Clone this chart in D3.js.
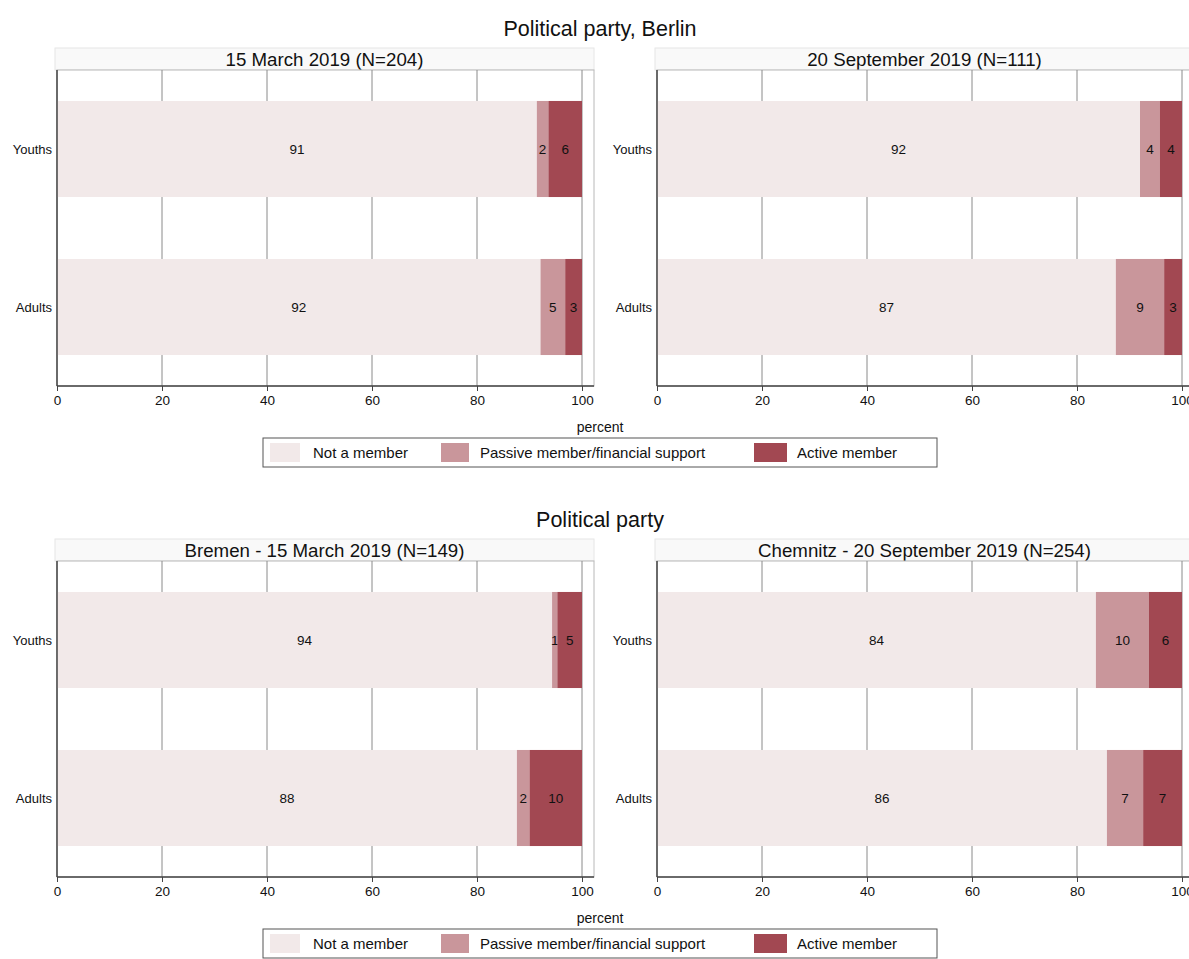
<!DOCTYPE html>
<html><head><meta charset="utf-8">
<script src="https://cdn.jsdelivr.net/npm/d3@7"></script>
<style>
html,body{margin:0;padding:0;background:#fff;overflow:hidden;}
text{font-family:"Liberation Sans",Arial,Helvetica,sans-serif;fill:#111;}
</style></head>
<body>
<svg id="chart" width="1189" height="959"></svg>
<script>
// ---- data ----
const categories = ["Youths", "Adults"];
const seriesNames = ["Not a member", "Passive member/financial support", "Active member"];
const seriesColors = ["#f2e9e9", "#c9969b", "#a24852"];
const tickValues = [0, 20, 40, 60, 80, 100];
const sectionTitles = ["Political party, Berlin", "Political party"];
const panelTitles = ["15 March 2019 (N=204)", "20 September 2019 (N=111)",
                     "Bremen - 15 March 2019 (N=149)", "Chemnitz - 20 September 2019 (N=254)"];
// rows: [Youths, Adults]; columns: [not a member, passive, active]
const berlinMarch = [[91.4, 2.2, 6.4], [92.1, 4.7, 3.2]];
const berlinSeptember = [[92.0, 3.8, 4.2], [87.4, 9.2, 3.4]];
const bremenMarch = [[94.3, 1.0, 4.7], [87.6, 2.4, 10.0]];
const chemnitzSeptember = [[83.6, 10.1, 6.3], [85.7, 6.9, 7.4]];
const axisLabel = "percent";

const svg = d3.select("#chart");
const fmt = d3.format(".0f");

function panel(x0, top, title, values) {
  const g = svg.append("g");
  const plotW = 537, plotTop = top + 22, plotBot = plotTop + 316;
  const x = d3.scaleLinear().domain([0, 100]).range([x0, x0 + 525]);
  const y = d3.scaleBand().domain(categories).range([plotTop, plotBot])
    .paddingInner(0.392).paddingOuter(0.196);

  // header strip
  g.append("rect").attr("x", x0 - 2).attr("y", top).attr("width", plotW + 2).attr("height", 22)
    .attr("fill", "#f9f9f9").attr("stroke", "#e6e6e6");
  g.append("text").attr("x", x0 + plotW / 2 - 1).attr("y", top + 11).attr("dy", "0.35em")
    .attr("text-anchor", "middle").style("font-size", "18.7px").text(title);

  // plot border
  g.append("rect").attr("x", x0).attr("y", plotTop).attr("width", plotW).attr("height", plotBot - plotTop)
    .attr("fill", "#fff").attr("stroke", "#b8b8b8").attr("stroke-width", 1);

  // grid
  g.selectAll("line.grid").data(tickValues.filter(d => d > 0)).enter().append("line")
    .attr("class", "grid").attr("x1", d => x(d)).attr("x2", d => x(d))
    .attr("y1", plotTop).attr("y2", plotBot).attr("stroke", "#8a8a8a").attr("stroke-width", 1);

  // bars
  categories.forEach((c, i) => {
    let cum = 0;
    values[i].forEach((v, j) => {
      const a = cum, b = cum + v; cum = b;
      g.append("rect").attr("x", x(a)).attr("y", y(c)).attr("width", x(b) - x(a)).attr("height", y.bandwidth())
        .attr("fill", seriesColors[j]);
      g.append("text").attr("x", (x(a) + x(b)) / 2).attr("y", y(c) + y.bandwidth() / 2).attr("dy", "0.35em")
        .attr("text-anchor", "middle").style("font-size", "13.5px").text(fmt(v));
    });
    g.append("text").attr("x", x0 - 5).attr("y", y(c) + y.bandwidth() / 2).attr("dy", "0.35em")
      .attr("text-anchor", "end").style("font-size", "13px").text(c);
  });

  // axes
  g.append("line").attr("x1", x0).attr("x2", x0).attr("y1", plotTop).attr("y2", plotBot)
    .attr("stroke", "#444").attr("stroke-width", 1.5);
  g.append("line").attr("x1", x0).attr("x2", x0 + plotW).attr("y1", plotBot).attr("y2", plotBot)
    .attr("stroke", "#444").attr("stroke-width", 1.5);
  const ax = g.append("g").attr("transform", `translate(0,${plotBot})`)
    .call(d3.axisBottom(x).tickValues(tickValues).tickSize(5).tickSizeOuter(0).tickPadding(4));
  ax.select(".domain").remove();
  ax.selectAll(".tick line").attr("stroke", "#444");
  ax.selectAll(".tick text").style("font-size", "13.5px").attr("fill", "#111")
    .style("font-family", '"Liberation Sans",Arial,sans-serif');
  return plotBot;
}

function legend(top) {
  const g = svg.append("g");
  g.append("rect").attr("x", 263).attr("y", top).attr("width", 674).attr("height", 29)
    .attr("fill", "#fff").attr("stroke", "#555").attr("stroke-width", 1);
  const sw = [270, 441, 754], swW = [30, 28, 33], tx = [313, 480, 797];
  seriesNames.forEach((n, i) => {
    g.append("rect").attr("x", sw[i]).attr("y", top + 5).attr("width", swW[i]).attr("height", 19)
      .attr("fill", seriesColors[i]);
    g.append("text").attr("x", tx[i]).attr("y", top + 15).attr("dy", "0.35em")
      .style("font-size", "15px").text(n);
  });
}

function section(offset, title, p1, p2, v1, v2) {
  svg.append("text").attr("x", 600).attr("y", 28 + offset).attr("dy", "0.35em")
    .attr("text-anchor", "middle").style("font-size", "21.5px").text(title);
  panel(57, 48 + offset, p1, v1);
  panel(657, 48 + offset, p2, v2);
  svg.append("text").attr("x", 600).attr("y", 427 + offset).attr("dy", "0.35em")
    .attr("text-anchor", "middle").style("font-size", "14px").text(axisLabel);
  legend(438 + offset);
}

section(0, sectionTitles[0], panelTitles[0], panelTitles[1], berlinMarch, berlinSeptember);
section(491, sectionTitles[1], panelTitles[2], panelTitles[3], bremenMarch, chemnitzSeptember);
</script>
</body></html>
